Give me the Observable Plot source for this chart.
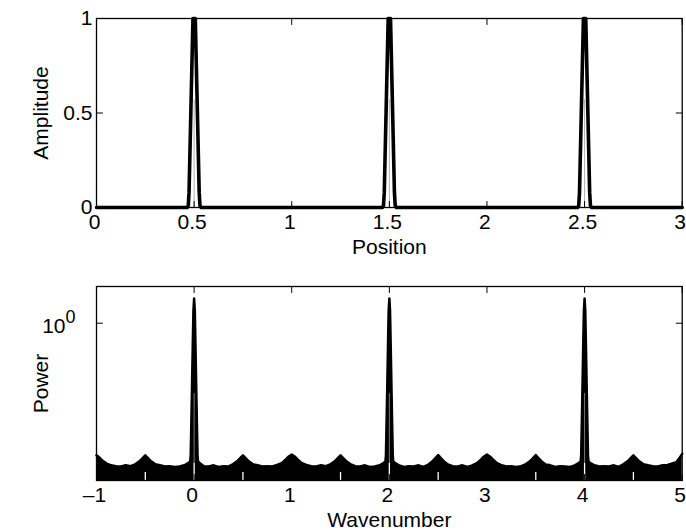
<!DOCTYPE html>
<html><head><meta charset="utf-8">
<script src="https://cdn.jsdelivr.net/npm/d3@7"></script>
<script src="https://cdn.jsdelivr.net/npm/@observablehq/plot@0.6"></script>
<style>html,body{margin:0;padding:0;background:#fff}#chart svg{display:block}</style>
</head><body><div id="chart"></div>
<script>
// ---- Top panel data: Amplitude vs Position ----
const position = [0,
  0.464, 0.47, 0.474, 0.494, 0.506, 0.526, 0.53, 0.536,
  1.464, 1.47, 1.474, 1.494, 1.506, 1.526, 1.53, 1.536,
  2.464, 2.47, 2.474, 2.494, 2.506, 2.526, 2.53, 2.536,
  3];
const amplitude = [0,
  0, 0.01, 0.08, 1, 1, 0.08, 0.01, 0,
  0, 0.01, 0.08, 1, 1, 0.08, 0.01, 0,
  0, 0.01, 0.08, 1, 1, 0.08, 0.01, 0,
  0];
const peakPositions = [0.5, 1.5, 2.5];
const peakInnerTop = [0.57, 0.57, 0.57];
const positionTicks = [0, 0.5, 1, 1.5, 2, 2.5, 3];
const amplitudeTicks = [0, 0.5, 1];

// ---- Bottom panel data: Power (upper envelope) vs Wavenumber ----
const wavenumber = [
  -1, -0.97, -0.94, -0.9, -0.85, -0.8, -0.75, -0.7, -0.65, -0.6, -0.56, -0.53, -0.5, -0.47, -0.44, -0.4, -0.35, -0.3, -0.25, -0.2, -0.15, -0.1, -0.06, -0.04, -0.035, -0.03, -0.022, -0.014, -0.007, 0,
  0.007, 0.014, 0.022, 0.03, 0.035, 0.04, 0.06, 0.1, 0.15, 0.2, 0.25, 0.3, 0.35, 0.4, 0.44, 0.47, 0.5, 0.53, 0.56, 0.6, 0.65, 0.7, 0.75, 0.8, 0.85, 0.9, 0.94, 0.97, 1, 1.03, 1.06, 1.1, 1.15, 1.2, 1.25, 1.3, 1.35, 1.4, 1.44, 1.47, 1.5, 1.53, 1.56, 1.6, 1.65, 1.7, 1.75, 1.8, 1.85, 1.9, 1.94, 1.96, 1.965, 1.97, 1.978, 1.986, 1.993, 2,
  2.007, 2.014, 2.022, 2.03, 2.035, 2.04, 2.06, 2.1, 2.15, 2.2, 2.25, 2.3, 2.35, 2.4, 2.44, 2.47, 2.5, 2.53, 2.56, 2.6, 2.65, 2.7, 2.75, 2.8, 2.85, 2.9, 2.94, 2.97, 3, 3.03, 3.06, 3.1, 3.15, 3.2, 3.25, 3.3, 3.35, 3.4, 3.44, 3.47, 3.5, 3.53, 3.56, 3.6, 3.65, 3.7, 3.75, 3.8, 3.85, 3.9, 3.94, 3.96, 3.965, 3.97, 3.978, 3.986, 3.993, 4,
  4.007, 4.014, 4.022, 4.03, 4.035, 4.04, 4.06, 4.1, 4.15, 4.2, 4.25, 4.3, 4.35, 4.4, 4.44, 4.47, 4.5, 4.53, 4.56, 4.6, 4.65, 4.7, 4.75, 4.8, 4.85, 4.9, 4.94, 4.97, 5
];
const power = [
  0.296, 0.290, 0.282, 0.275, 0.270, 0.268, 0.267, 0.270, 0.268, 0.273, 0.280, 0.288, 0.296, 0.288, 0.280, 0.273, 0.270, 0.267, 0.268, 0.266, 0.267, 0.270, 0.276, 0.280, 0.296, 0.372, 0.543, 0.814, 1.124, 1.255,
  1.124, 0.814, 0.543, 0.372, 0.296, 0.280, 0.275, 0.268, 0.267, 0.270, 0.266, 0.268, 0.267, 0.273, 0.280, 0.288, 0.296, 0.288, 0.280, 0.273, 0.270, 0.267, 0.268, 0.267, 0.271, 0.276, 0.285, 0.293, 0.298, 0.293, 0.285, 0.276, 0.271, 0.268, 0.267, 0.270, 0.268, 0.273, 0.280, 0.288, 0.296, 0.288, 0.280, 0.273, 0.268, 0.267, 0.270, 0.266, 0.267, 0.270, 0.276, 0.280, 0.296, 0.372, 0.543, 0.814, 1.124, 1.255,
  1.124, 0.814, 0.543, 0.372, 0.296, 0.280, 0.276, 0.270, 0.266, 0.268, 0.267, 0.270, 0.266, 0.272, 0.280, 0.288, 0.297, 0.288, 0.280, 0.272, 0.268, 0.267, 0.270, 0.266, 0.270, 0.276, 0.285, 0.293, 0.298, 0.293, 0.285, 0.276, 0.270, 0.267, 0.268, 0.266, 0.268, 0.273, 0.280, 0.288, 0.297, 0.288, 0.280, 0.272, 0.270, 0.266, 0.268, 0.267, 0.266, 0.270, 0.276, 0.280, 0.296, 0.372, 0.543, 0.814, 1.124, 1.255,
  1.124, 0.814, 0.543, 0.372, 0.296, 0.280, 0.276, 0.270, 0.267, 0.268, 0.267, 0.270, 0.266, 0.273, 0.280, 0.288, 0.296, 0.288, 0.280, 0.273, 0.270, 0.268, 0.267, 0.270, 0.271, 0.275, 0.278, 0.288, 0.300
];
// narrow gaps in the dense oscillation (white slivers at the floor)
const gapWavenumber = [-0.5, 0, 0.5, 1.5, 2, 2.5, 3.5, 4, 4.5];
const gapTop = [0.253, 0.275, 0.253, 0.253, 0.275, 0.253, 0.253, 0.275, 0.253];
const peakWavenumber = [0, 2, 4];
const peakGapTop = [0.523, 0.523, 0.523];
const wavenumberTicks = [-1, 0, 1, 2, 3, 4, 5];
const powerTicks = [1];
const powerDomain = [0.2348, 1.4024];

const FONT = "'Liberation Sans', Arial, Helvetica, sans-serif";
const FS = 21;
const fmt = d => d < 0 ? "\u2013" + (-d) : String(d);
const tickShape = {draw(context, l) { context.moveTo(0, 0); context.lineTo(0, -l); }};
function boxTicks(xt, yt) {
  const o = {length: 6, anchor: "start", shape: tickShape, stroke: "black", strokeWidth: 1};
  return [
    Plot.vector(xt, {...o, x: d => d, frameAnchor: "bottom", rotate: 0}),
    Plot.vector(xt, {...o, x: d => d, frameAnchor: "top", rotate: 180}),
    Plot.vector(yt, {...o, y: d => d, frameAnchor: "left", rotate: 90}),
    Plot.vector(yt, {...o, y: d => d, frameAnchor: "right", rotate: -90})
  ];
}
const style = {fontFamily: FONT, fontSize: FS + "px", color: "black", background: "white", overflow: "visible"};
const xLabel = t => Plot.text([t], {frameAnchor: "bottom", dy: 40, lineAnchor: "middle", textAnchor: "middle", fontSize: FS});
const yLabel = t => Plot.text([t], {frameAnchor: "left", rotate: -90, dx: -55, lineAnchor: "middle", textAnchor: "middle", fontSize: FS});

const topData = position.map((x, i) => ({x, y: amplitude[i]}));
const innerData = peakPositions.map((x, i) => ({x, top: peakInnerTop[i]}));
const topChart = Plot.plot({
  width: 686, height: 265,
  marginLeft: 96, marginRight: 4.3, marginTop: 18, marginBottom: 58,
  x: {domain: [0, 3]}, y: {domain: [0, 1]},
  style,
  marks: [
    Plot.ruleX(innerData, {x: "x", y1: () => 0, y2: "top", stroke: "#999", strokeWidth: 0.8}),
    Plot.line(topData, {x: "x", y: "y", stroke: "black", strokeWidth: 3.6, strokeLinejoin: "round"}),
    Plot.frame({stroke: "black", strokeWidth: 1.3}),
    ...boxTicks(positionTicks, amplitudeTicks),
    Plot.axisX(positionTicks, {tickSize: 0, tickPadding: 7, dx: -2, label: null, fontSize: FS, tickFormat: fmt}),
    Plot.axisY(amplitudeTicks, {tickSize: 0, tickPadding: 4, label: null, fontSize: FS, tickFormat: fmt}),
    xLabel("Position"),
    yLabel("Amplitude")
  ]
});

const specData = wavenumber.map((k, i) => ({k, p: power[i]}));
const gapData = gapWavenumber.map((k, i) => ({k, top: gapTop[i]}));
const peakGapData = peakWavenumber.map((k, i) => ({k, top: peakGapTop[i]}));
const bottomChart = Plot.plot({
  width: 686, height: 265,
  marginLeft: 96, marginRight: 4.3, marginTop: 21, marginBottom: 50,
  x: {domain: [-1, 5]},
  y: {type: "log", domain: powerDomain},
  style,
  marks: [
    Plot.areaY(specData, {x: "k", y1: () => powerDomain[0], y2: "p", fill: "black"}),
    Plot.line(specData, {x: "k", y: "p", stroke: "black", strokeWidth: 2.5, strokeLinejoin: "round"}),
    Plot.ruleX(peakGapData, {x: "k", y1: () => 0.275, y2: "top", stroke: "white", strokeWidth: 0.8, strokeOpacity: 0.6}),
    Plot.ruleX(gapData, {x: "k", y1: () => powerDomain[0], y2: "top", stroke: "white", strokeWidth: 1.3}),
    Plot.frame({stroke: "black", strokeWidth: 1.3}),
    ...boxTicks(wavenumberTicks, powerTicks),
    Plot.axisX(wavenumberTicks, {tickSize: 0, tickPadding: 7, dx: -2, label: null, fontSize: FS, tickFormat: fmt}),
    Plot.axisY(powerTicks, {tickSize: 0, tickPadding: 21, dy: 3, label: null, fontSize: FS, tickFormat: () => "10"}),
    xLabel("Wavenumber"),
    yLabel("Power")
  ]
});
// exponent superscript on the log tick label
bottomChart.querySelectorAll("text").forEach(t => {
  if (t.textContent === "10") {
    const ts = document.createElementNS("http://www.w3.org/2000/svg", "tspan");
    ts.setAttribute("dy", "-10");
    ts.setAttribute("font-size", "18");
    ts.textContent = "0";
    t.appendChild(ts);
  }
});
const chart = document.getElementById("chart");
chart.appendChild(topChart);
chart.appendChild(bottomChart);
</script></body></html>
